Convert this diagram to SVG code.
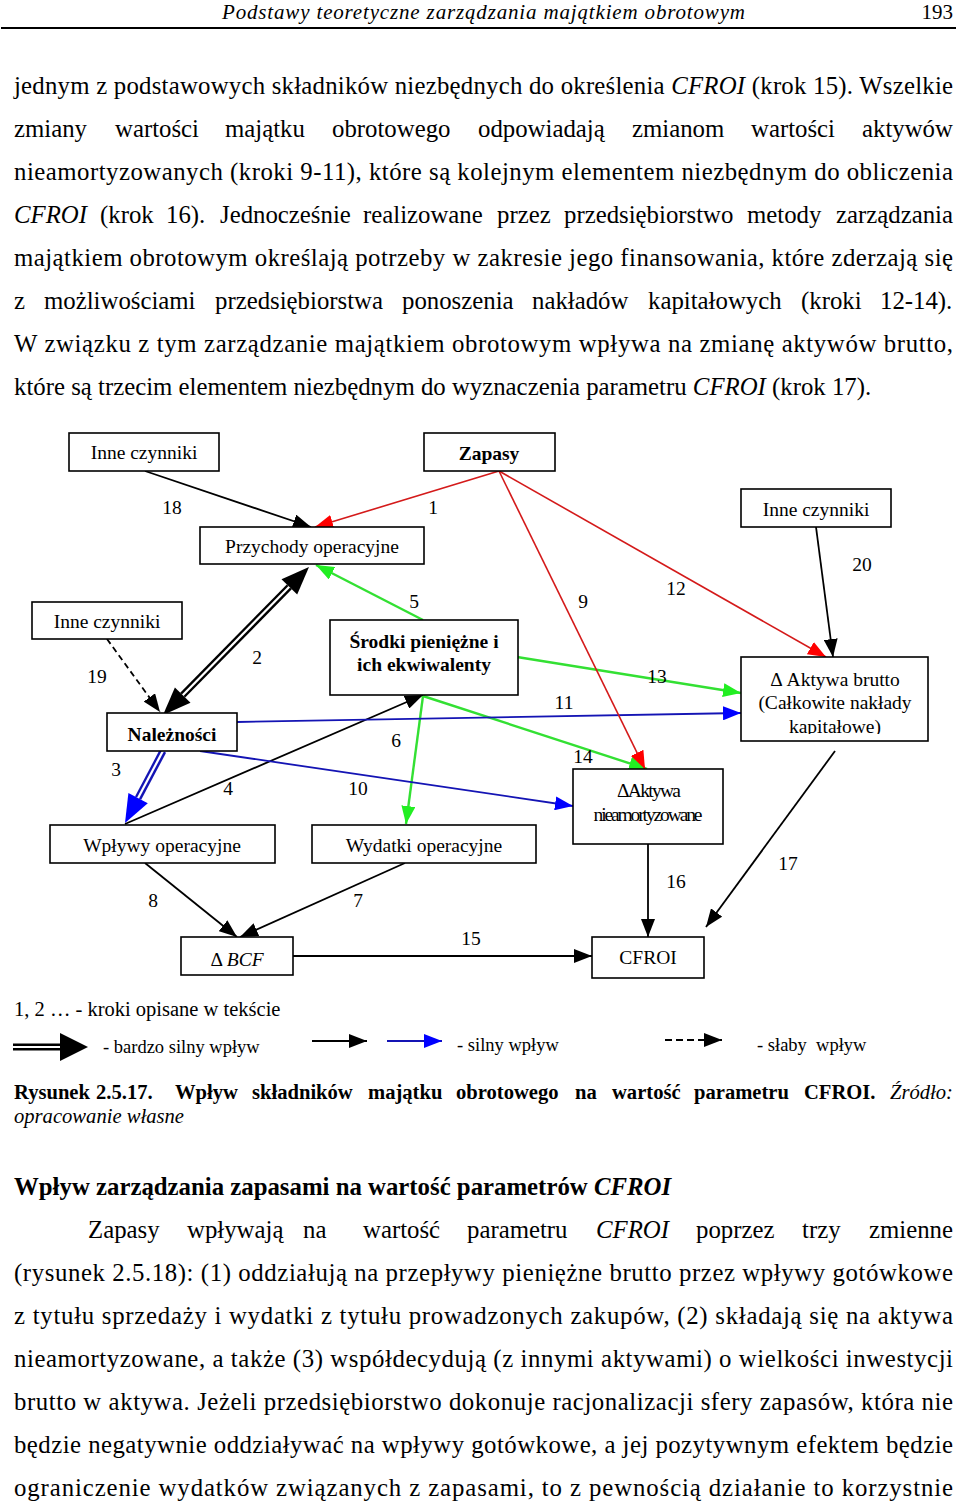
<svg xmlns="http://www.w3.org/2000/svg" width="960" height="1502" viewBox="0 0 960 1502">
<style>
text{font-family:"Liberation Serif","Times New Roman",serif;fill:#000}
.body{font-size:24.8px}
.hd{font-size:21px;font-style:italic}
.n{font-size:19.5px;text-anchor:middle}
.lbl{font-size:19.5px;text-anchor:middle}
.lg{font-size:18.5px}
.cap{font-size:20.6px}
.b{font-weight:bold}
.i{font-style:italic}
.box{fill:#fff;stroke:#000;stroke-width:1.6}
.k{stroke:#000;stroke-width:1.8;fill:none}
.r{stroke:#d41a1a;stroke-width:1.6;fill:none}
.g{stroke:#33e033;stroke-width:2.4;fill:none}
.bl{stroke:#1414b4;stroke-width:1.8;fill:none}
</style>
<defs>
<marker id="ak" markerUnits="userSpaceOnUse" markerWidth="20" markerHeight="14" refX="18" refY="7" orient="auto"><path d="M0,0 L18,7 L0,14 z" fill="#000"/></marker>
<marker id="ar" markerUnits="userSpaceOnUse" markerWidth="20" markerHeight="14" refX="18" refY="7" orient="auto"><path d="M0,0 L18,7 L0,14 z" fill="#ff0000"/></marker>
<marker id="ag" markerUnits="userSpaceOnUse" markerWidth="20" markerHeight="14" refX="18" refY="7" orient="auto"><path d="M0,0 L18,7 L0,14 z" fill="#22ee22"/></marker>
<marker id="ab" markerUnits="userSpaceOnUse" markerWidth="20" markerHeight="14" refX="18" refY="7" orient="auto"><path d="M0,0 L18,7 L0,14 z" fill="#0000ff"/></marker>
<clipPath id="clipAB"><rect x="742" y="658" width="185" height="76"/></clipPath>
</defs>

<!-- header -->
<g id="header">
<text class="hd" x="222" y="19" textLength="523" lengthAdjust="spacing">Podstawy teoretyczne zarządzania majątkiem obrotowym</text>
<text x="953" y="19" style="font-size:21px" text-anchor="end">193</text>
<line x1="1" y1="28" x2="956" y2="28" stroke="#000" stroke-width="2"/>
</g>

<!-- top paragraph -->
<g id="para-top">
<text class="body" x="14" y="94" textLength="939" lengthAdjust="spacing">jednym z podstawowych składników niezbędnych do określenia <tspan class="i">CFROI</tspan> (krok 15). Wszelkie</text>
<text class="body" y="137"><tspan x="14">zmiany</tspan><tspan x="115">wartości</tspan><tspan x="225">majątku</tspan><tspan x="332">obrotowego</tspan><tspan x="478">odpowiadają</tspan><tspan x="632">zmianom</tspan><tspan x="751">wartości</tspan><tspan x="862">aktywów</tspan></text>
<text class="body" x="14" y="180" textLength="939" lengthAdjust="spacing">nieamortyzowanych (kroki 9-11), które są kolejnym elementem niezbędnym do obliczenia</text>
<text class="body" y="223"><tspan x="14" class="i">CFROI</tspan><tspan x="100">(krok</tspan><tspan x="166">16).</tspan><tspan x="220">Jednocześnie</tspan><tspan x="363">realizowane</tspan><tspan x="497">przez</tspan><tspan x="564">przedsiębiorstwo</tspan><tspan x="747">metody</tspan><tspan x="836">zarządzania</tspan></text>
<text class="body" x="14" y="266" textLength="939" lengthAdjust="spacing">majątkiem obrotowym określają potrzeby w zakresie jego finansowania, które zderzają się</text>
<text class="body" y="309"><tspan x="14">z</tspan><tspan x="44">możliwościami</tspan><tspan x="215">przedsiębiorstwa</tspan><tspan x="402">ponoszenia</tspan><tspan x="532">nakładów</tspan><tspan x="648">kapitałowych</tspan><tspan x="801">(kroki</tspan><tspan x="880">12-14).</tspan></text>
<text class="body" x="14" y="352" textLength="939" lengthAdjust="spacing">W związku z tym zarządzanie majątkiem obrotowym wpływa na zmianę aktywów brutto,</text>
<text class="body" x="14" y="395">które są trzecim elementem niezbędnym do wyznaczenia parametru <tspan class="i">CFROI</tspan> (krok 17).</text>
</g>

<!-- connectors -->
<g id="connectors">
<line class="k" x1="145" y1="471" x2="311" y2="527" marker-end="url(#ak)"/>
<line class="r" x1="499" y1="471" x2="315" y2="527" marker-end="url(#ar)"/>
<line class="g" x1="423" y1="620" x2="316" y2="565" marker-end="url(#ag)"/>
<line class="k" x1="107" y1="639" x2="160" y2="712" stroke-dasharray="6,4" marker-end="url(#ak)"/>
<line x1="182.7" y1="695.1" x2="289.3" y2="586.9" stroke="#000" stroke-width="7"/>
<line x1="180" y1="698" x2="292" y2="584" stroke="#fff" stroke-width="2.2"/>
<polygon points="309,567 297.2,594.6 281.5,579.2" fill="#000"/>
<polygon points="163,715 190.5,702.8 174.9,687.4" fill="#000"/>
<line x1="163" y1="751" x2="138.1" y2="798.2" stroke="#1414b4" stroke-width="7"/>
<line x1="164" y1="749" x2="137" y2="800" stroke="#fff" stroke-width="2.2"/>
<polygon points="125,823 147.8,803.3 128.4,793.1" fill="#0000ff"/>
<line class="k" x1="125" y1="824" x2="423" y2="695" marker-end="url(#ak)"/>
<line class="g" x1="423" y1="696" x2="406" y2="824" marker-end="url(#ag)"/>
<line class="g" x1="423" y1="696" x2="647" y2="769" marker-end="url(#ag)"/>
<line class="g" x1="517" y1="657" x2="741" y2="693" marker-end="url(#ag)"/>
<line class="bl" x1="237" y1="722" x2="741" y2="713" marker-end="url(#ab)"/>
<line class="bl" x1="200" y1="751" x2="573" y2="806" marker-end="url(#ab)"/>
<line class="r" x1="499" y1="471" x2="645" y2="769" marker-end="url(#ar)"/>
<line class="r" x1="499" y1="471" x2="826" y2="657" marker-end="url(#ar)"/>
<line class="k" x1="816" y1="527" x2="833" y2="657" marker-end="url(#ak)"/>
<line class="k" x1="835" y1="751" x2="706" y2="927" marker-end="url(#ak)"/>
<line class="k" x1="648" y1="844" x2="648" y2="937" marker-end="url(#ak)"/>
<line class="k" x1="145" y1="863" x2="237" y2="937" marker-end="url(#ak)"/>
<line class="k" x1="405" y1="863" x2="240" y2="937" marker-end="url(#ak)"/>
<line class="k" x1="293" y1="956" x2="592" y2="956" marker-end="url(#ak)"/>
</g>

<!-- connector labels -->
<g id="labels">
<text class="lbl" x="172" y="514">18</text>
<text class="lbl" x="433" y="514">1</text>
<text class="lbl" x="257" y="664">2</text>
<text class="lbl" x="414" y="608">5</text>
<text class="lbl" x="583" y="608">9</text>
<text class="lbl" x="676" y="595">12</text>
<text class="lbl" x="862" y="571">20</text>
<text class="lbl" x="97" y="683">19</text>
<text class="lbl" x="657" y="683">13</text>
<text class="lbl" x="564" y="709">11</text>
<text class="lbl" x="396" y="747">6</text>
<text class="lbl" x="583" y="763">14</text>
<text class="lbl" x="116" y="776">3</text>
<text class="lbl" x="228" y="795">4</text>
<text class="lbl" x="358" y="795">10</text>
<text class="lbl" x="788" y="870">17</text>
<text class="lbl" x="676" y="888">16</text>
<text class="lbl" x="153" y="907">8</text>
<text class="lbl" x="358" y="907">7</text>
<text class="lbl" x="471" y="945">15</text>
</g>

<!-- nodes -->
<g id="n-inne1"><rect class="box" x="69" y="433" width="150" height="38"/><text class="n" x="144" y="459">Inne czynniki</text></g>
<g id="n-zapasy"><rect class="box" x="424" y="433" width="131" height="38"/><text class="n b" x="489" y="460">Zapasy</text></g>
<g id="n-inne3"><rect class="box" x="741" y="489" width="150" height="38"/><text class="n" x="816" y="516">Inne czynniki</text></g>
<g id="n-przychody"><rect class="box" x="200" y="527" width="224" height="37"/><text class="n" x="312" y="553">Przychody operacyjne</text></g>
<g id="n-inne2"><rect class="box" x="32" y="602" width="150" height="37"/><text class="n" x="107" y="628">Inne czynniki</text></g>
<g id="n-srodki"><rect class="box" x="330" y="620" width="188" height="75"/><text class="n b" x="424" y="648">Środki pieniężne i</text><text class="n b" x="424" y="671">ich ekwiwalenty</text></g>
<g id="n-aktywa-brutto"><rect class="box" x="741" y="657" width="187" height="84"/><g clip-path="url(#clipAB)"><text class="n" x="835" y="686">Δ Aktywa brutto</text><text class="n" x="835" y="709">(Całkowite nakłady</text><text class="n" x="835" y="733">kapitałowe)</text></g></g>
<g id="n-naleznosci"><rect class="box" x="107" y="713" width="130" height="38"/><text class="n b" x="172" y="741">Należności</text></g>
<g id="n-aktywa-nieam"><rect class="box" x="573" y="769" width="150" height="75"/><text class="n" x="649" y="797" textLength="64" lengthAdjust="spacing">ΔAktywa</text><text class="n" x="648" y="821" textLength="109" lengthAdjust="spacing">nieamortyzowane</text></g>
<g id="n-wplywy"><rect class="box" x="50" y="825" width="225" height="38"/><text class="n" x="162" y="852">Wpływy operacyjne</text></g>
<g id="n-wydatki"><rect class="box" x="312" y="825" width="224" height="38"/><text class="n" x="424" y="852">Wydatki operacyjne</text></g>
<g id="n-bcf"><rect class="box" x="181" y="937" width="112" height="38"/><text class="n" x="237" y="966">Δ <tspan class="i">BCF</tspan></text></g>
<g id="n-cfroi"><rect class="box" x="592" y="937" width="112" height="41"/><text class="n" x="648" y="964">CFROI</text></g>

<!-- legend -->
<g id="legend">
<text x="14" y="1016" style="font-size:20.5px">1, 2 … - kroki opisane w tekście</text>
<line x1="13" y1="1047" x2="62" y2="1047" stroke="#000" stroke-width="7"/>
<line x1="12" y1="1047" x2="62" y2="1047" stroke="#fff" stroke-width="2.2"/>
<polygon points="60,1033 88,1047 60,1061" fill="#000"/>
<text class="lg" x="103" y="1053">- bardzo silny wpływ</text>
<line class="k" x1="312" y1="1041" x2="367" y2="1041" marker-end="url(#ak)"/>
<line class="bl" x1="387" y1="1041" x2="442" y2="1041" marker-end="url(#ab)"/>
<text class="lg" x="457" y="1051">- silny wpływ</text>
<line class="k" x1="665" y1="1040" x2="722" y2="1040" stroke-dasharray="7,4" marker-end="url(#ak)"/>
<text class="lg" x="757" y="1051" xml:space="preserve">- słaby  wpływ</text>
</g>

<!-- caption -->
<g id="caption">
<text class="cap b" y="1099"><tspan x="14">Rysunek</tspan><tspan x="96">2.5.17.</tspan><tspan x="175">Wpływ</tspan><tspan x="252">składników</tspan><tspan x="368">majątku</tspan><tspan x="456">obrotowego</tspan><tspan x="575">na</tspan><tspan x="612">wartość</tspan><tspan x="694">parametru</tspan><tspan x="804">CFROI.</tspan><tspan x="890" style="font-weight:normal;font-style:italic">Źródło:</tspan></text>
<text class="cap i" x="14" y="1123">opracowanie własne</text>
</g>

<!-- bottom section -->
<g id="para-bottom">
<text class="body b" x="14" y="1195">Wpływ zarządzania zapasami na wartość parametrów <tspan class="i">CFROI</tspan></text>
<text class="body" y="1238"><tspan x="88">Zapasy</tspan><tspan x="187">wpływają</tspan><tspan x="303">na</tspan><tspan x="363">wartość</tspan><tspan x="467">parametru</tspan><tspan x="596" class="i">CFROI</tspan><tspan x="696">poprzez</tspan><tspan x="802">trzy</tspan><tspan x="869">zmienne</tspan></text>
<text class="body" x="14" y="1281" textLength="939" lengthAdjust="spacing">(rysunek 2.5.18): (1) oddziałują na przepływy pieniężne brutto przez wpływy gotówkowe</text>
<text class="body" x="14" y="1324" textLength="939" lengthAdjust="spacing">z tytułu sprzedaży i wydatki z tytułu prowadzonych zakupów, (2) składają się na aktywa</text>
<text class="body" x="14" y="1367" textLength="939" lengthAdjust="spacing">nieamortyzowane, a także (3) współdecydują (z innymi aktywami) o wielkości inwestycji</text>
<text class="body" x="14" y="1410" textLength="939" lengthAdjust="spacing">brutto w aktywa. Jeżeli przedsiębiorstwo dokonuje racjonalizacji sfery zapasów, która nie</text>
<text class="body" x="14" y="1453" textLength="939" lengthAdjust="spacing">będzie negatywnie oddziaływać na wpływy gotówkowe, a jej pozytywnym efektem będzie</text>
<text class="body" x="14" y="1496" textLength="939" lengthAdjust="spacing">ograniczenie wydatków związanych z zapasami, to z pewnością działanie to korzystnie</text>
</g>
</svg>
